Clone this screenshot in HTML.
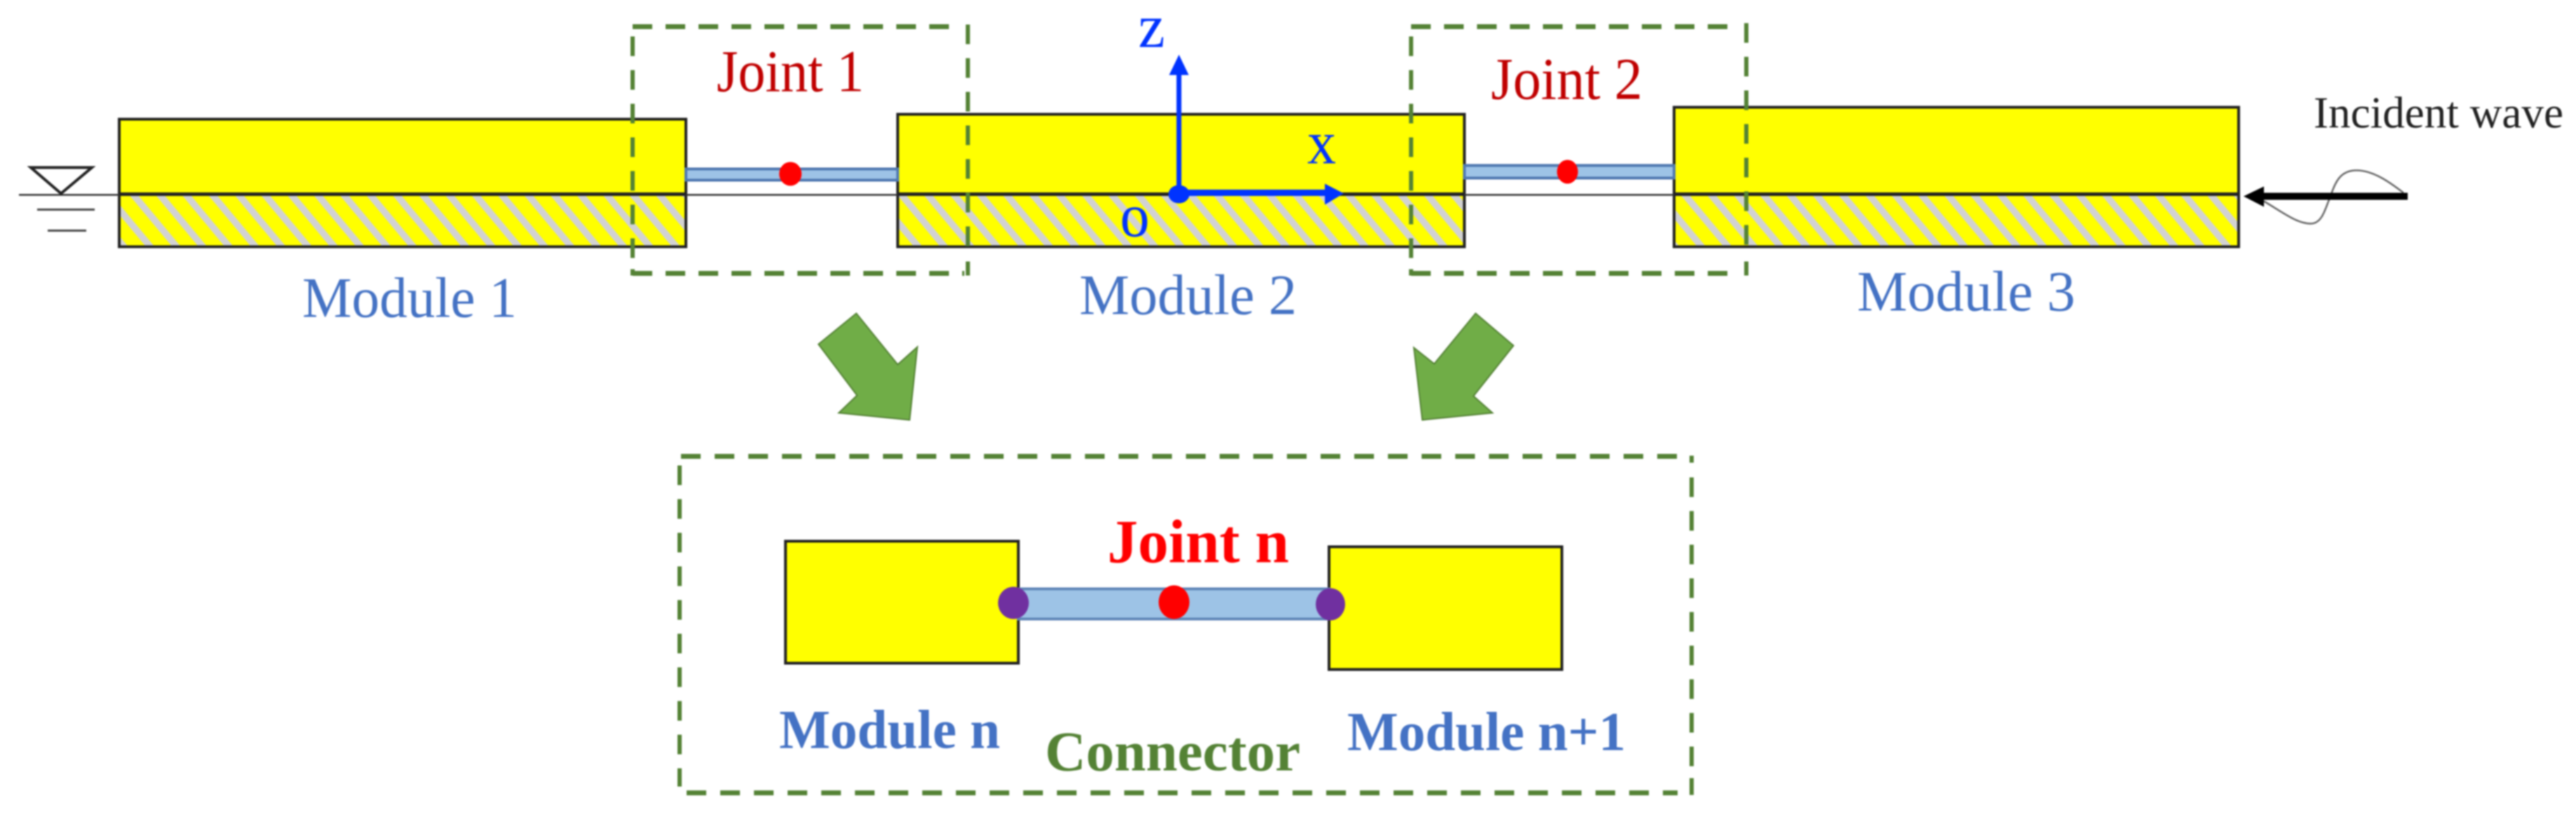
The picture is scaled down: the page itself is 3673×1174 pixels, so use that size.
<!DOCTYPE html>
<html lang="en">
<head>
<meta charset="utf-8">
<title>Modules and joints diagram</title>
<style>
html,body{margin:0;padding:0;background:#fff;width:3673px;height:1174px;overflow:hidden}
svg{display:block;filter:blur(1px)}
text{font-family:"Liberation Serif",serif}
</style>
</head>
<body>
<svg xmlns="http://www.w3.org/2000/svg" width="3673" height="1174" viewBox="0 0 3673 1174">
<defs>
<pattern id="h1" patternUnits="userSpaceOnUse" x="-46.65" y="0" width="37.5" height="100" patternTransform="skewX(39.7)">
<rect width="37.5" height="100" fill="#ffff00"/>
<rect x="0" width="12.5" height="100" fill="#d2d2d2"/>
</pattern>
<pattern id="h2" patternUnits="userSpaceOnUse" x="1048.35" y="0" width="37.5" height="100" patternTransform="skewX(39.7)">
<rect width="37.5" height="100" fill="#ffff00"/>
<rect x="0" width="12.5" height="100" fill="#d2d2d2"/>
</pattern>
<pattern id="h3" patternUnits="userSpaceOnUse" x="2165.35" y="0" width="37.5" height="100" patternTransform="skewX(39.7)">
<rect width="37.5" height="100" fill="#ffff00"/>
<rect x="0" width="12.5" height="100" fill="#d2d2d2"/>
</pattern>
</defs>

<!-- modules -->
<g stroke="none">
<rect x="170" y="170" width="808" height="107" fill="#ffff00"/>
<rect x="170" y="277" width="808" height="75" fill="url(#h1)"/>
<rect x="1280" y="163" width="808" height="114" fill="#ffff00"/>
<rect x="1280" y="277" width="808" height="75" fill="url(#h2)"/>
<rect x="2387" y="153" width="805" height="124" fill="#ffff00"/>
<rect x="2387" y="277" width="805" height="75" fill="url(#h3)"/>
</g>
<g fill="none" stroke="#222" stroke-width="4">
<rect x="170" y="170" width="808" height="182"/>
<rect x="1280" y="163" width="808" height="189"/>
<rect x="2387" y="153" width="805" height="199"/>
</g>

<!-- waterline -->
<line x1="27" y1="278" x2="3192" y2="278" stroke="#333" stroke-width="2.5"/>
<g stroke="#222" stroke-width="5">
<line x1="170" y1="277" x2="978" y2="277"/>
<line x1="1280" y1="277" x2="2088" y2="277"/>
<line x1="2387" y1="277" x2="3192" y2="277"/>
</g>

<!-- water symbol -->
<path d="M44 239 H131 L87 276 Z" fill="none" stroke="#222" stroke-width="4"/>
<line x1="53" y1="299" x2="135" y2="299" stroke="#444" stroke-width="3"/>
<line x1="68" y1="329" x2="123" y2="329" stroke="#444" stroke-width="3"/>

<!-- small connectors -->
<rect x="978" y="241" width="302" height="16" fill="#9dc3e6" stroke="#4f78b0" stroke-width="4"/>
<ellipse cx="1127" cy="248" rx="16" ry="17" fill="#ff0000"/>
<rect x="2088" y="236" width="299" height="18" fill="#9dc3e6" stroke="#4f78b0" stroke-width="4"/>
<ellipse cx="2235" cy="245" rx="15" ry="17" fill="#ff0000"/>

<!-- dashed boxes -->
<g fill="none" stroke="#548235" stroke-width="6">
<line x1="902" y1="38" x2="1372" y2="38" stroke-width="7" stroke-dasharray="28 19"/>
<line x1="902" y1="390" x2="1375" y2="390" stroke-width="7" stroke-dasharray="28 19"/>
<line x1="902" y1="52" x2="902" y2="368" stroke-dasharray="28 20"/>
<line x1="902" y1="384" x2="902" y2="393"/>
<line x1="1380" y1="35" x2="1380" y2="352" stroke-dasharray="28 20"/>
<line x1="1380" y1="373" x2="1380" y2="393"/>

<line x1="2012" y1="38" x2="2470" y2="38" stroke-width="7" stroke-dasharray="28 19"/>
<line x1="2012" y1="390" x2="2475" y2="390" stroke-width="7" stroke-dasharray="28 19"/>
<line x1="2012" y1="52" x2="2012" y2="368" stroke-dasharray="28 20"/>
<line x1="2012" y1="384" x2="2012" y2="393"/>
<line x1="2490" y1="33" x2="2490" y2="352" stroke-dasharray="28 20"/>
<line x1="2490" y1="373" x2="2490" y2="393"/>

<line x1="971" y1="651" x2="2400" y2="651" stroke-width="7" stroke-dasharray="28 20"/>
<line x1="979" y1="1131" x2="2392" y2="1131" stroke-width="7" stroke-dasharray="28 20"/>
<line x1="969" y1="664" x2="969" y2="1122" stroke-dasharray="28 20"/>
<line x1="2412" y1="681" x2="2412" y2="1100" stroke-dasharray="28 20"/>
<line x1="2412" y1="1110" x2="2412" y2="1134"/>
<line x1="2412" y1="650" x2="2412" y2="660"/>
</g>

<!-- axes -->
<line x1="1681" y1="277" x2="1681" y2="100" stroke="#0033ff" stroke-width="7"/>
<polygon points="1681,78 1667,107 1695,107" fill="#0033ff"/>
<line x1="1681" y1="275" x2="1895" y2="275" stroke="#0033ff" stroke-width="9"/>
<polygon points="1916,276 1889,262 1889,292" fill="#0033ff"/>
<ellipse cx="1681" cy="277" rx="15" ry="13" fill="#0033ff"/>

<!-- incident wave -->
<path d="M3228 287 C3255 303 3275 319 3295 319 C3312 319 3316 295 3323 280 C3330 258 3338 243 3360 243 C3385 243 3410 262 3427 275" fill="none" stroke="#666" stroke-width="2.5"/>
<line x1="3433" y1="280" x2="3225" y2="280" stroke="#000" stroke-width="10"/>
<polygon points="3199,280 3228,266 3228,295" fill="#000"/>

<!-- green arrows -->
<polygon points="1221,447 1167,491 1222,564 1196,589 1297,599 1308,495 1280,520" fill="#70ad47" stroke="#548235" stroke-width="2"/>
<polygon points="2104,447 2158,493 2101,565 2128,589 2028,599 2016,496 2045,519" fill="#70ad47" stroke="#548235" stroke-width="2"/>

<!-- detail -->
<rect x="1120" y="772" width="332" height="174" fill="#ffff00" stroke="#222" stroke-width="4"/>
<rect x="1895" y="780" width="332" height="175" fill="#ffff00" stroke="#222" stroke-width="4"/>
<rect x="1452" y="840" width="443" height="43" fill="#9dc3e6" stroke="#5f86b8" stroke-width="4"/>
<ellipse cx="1445" cy="860" rx="22" ry="23" fill="#7030a0"/>
<ellipse cx="1897" cy="862" rx="21" ry="23" fill="#7030a0"/>
<ellipse cx="1674" cy="859" rx="22" ry="24" fill="#ff0000"/>

<!-- labels -->
<g>
<text x="1022" y="130" font-size="85" fill="#c00000" textLength="210" lengthAdjust="spacingAndGlyphs">Joint 1</text>
<text x="2126" y="141" font-size="85" fill="#c00000" textLength="216" lengthAdjust="spacingAndGlyphs">Joint 2</text>
<text x="431" y="452" font-size="82" fill="#4472c4" textLength="306" lengthAdjust="spacingAndGlyphs">Module 1</text>
<text x="1539" y="448" font-size="82" fill="#4472c4" textLength="310" lengthAdjust="spacingAndGlyphs">Module 2</text>
<text x="2648" y="443" font-size="82" fill="#4472c4" textLength="311" lengthAdjust="spacingAndGlyphs">Module 3</text>
</g>
<g font-size="88" fill="#0033ff">
<text x="1623" y="67" textLength="38" lengthAdjust="spacingAndGlyphs">z</text>
<text x="1864" y="233" textLength="41" lengthAdjust="spacingAndGlyphs">x</text>
<text x="1597" y="337" textLength="42" lengthAdjust="spacingAndGlyphs">o</text>
</g>
<text x="3299" y="182" font-size="63" fill="#222" textLength="356" lengthAdjust="spacingAndGlyphs">Incident wave</text>
<g font-weight="bold">
<text x="1579" y="802" font-size="88" fill="#ff0000" textLength="259" lengthAdjust="spacingAndGlyphs">Joint n</text>
<text x="1111" y="1067" font-size="78" fill="#4472c4" textLength="315" lengthAdjust="spacingAndGlyphs">Module n</text>
<text x="1921" y="1070" font-size="78" fill="#4472c4" textLength="397" lengthAdjust="spacingAndGlyphs">Module n+1</text>
<text x="1490" y="1099" font-size="81" fill="#548235" textLength="364" lengthAdjust="spacingAndGlyphs">Connector</text>
</g>
</svg>
</body>
</html>
